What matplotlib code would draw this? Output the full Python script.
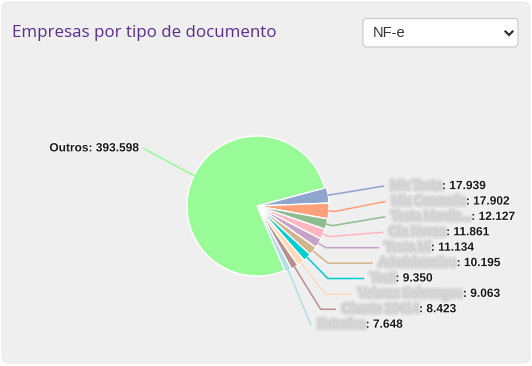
import numpy as np
import matplotlib
matplotlib.use("Agg")
import matplotlib.pyplot as plt
from matplotlib.patches import FancyBboxPatch
import matplotlib.patheffects as pe

# === dados do gráfico ===
titulo = "Empresas por tipo de documento"
tipo_documento = "NF-e"

empresas = ["Mix Testa", "Mix Cosmetic", "Testa Mardis...", "Cia Novas", "Testa Mi",
            "Administrativo", "Testi", "Veloraz Sobrenguo", "Chante 20414", "Extrativa"]
valores = [17939, 17902, 12127, 11861, 11134, 10195, 9350, 9063, 8423, 7648]
outros_nome = "Outros"
outros_valor = 393598

cores = ["#8fa5d0", "#ffa07a", "#8fbc8f", "#ffb6c1", "#c8a2c8",
         "#d2b48c", "#00ced1", "#ffdab9", "#bc8f8f", "#b0e0e6"]
cor_outros = "#98fb98"


def fmt(v):
    return f"{v:,}".replace(",", ".")


W, H = 532, 366
fig = plt.figure(figsize=(W / 100, H / 100), dpi=100)
fig.patch.set_facecolor("white")
ax = fig.add_axes([0, 0, 1, 1])

# cartão de fundo
ax.add_patch(FancyBboxPatch((2, 2), 528, 361, boxstyle="round,pad=0,rounding_size=7",
                            fc="#efefef", ec="#e6e6e6", lw=0.6, zorder=0))

# título e seletor
ax.text(12, 33, titulo, fontsize=12.2, family="Open Sans", color="#5a2d8c", va="center")
ax.add_patch(FancyBboxPatch((363, 18.5), 155, 28.5, boxstyle="round,pad=0,rounding_size=4",
                            fc="white", ec="#c8c8c8", lw=0.8, zorder=1))
ax.text(373, 33, tipo_documento, fontsize=10.5, family="Liberation Sans", color="#333333",
        va="center", zorder=2)
ax.plot([505.5, 509, 512.5], [31.5, 35, 31.5], color="#333333", lw=1.6, zorder=2,
        solid_joinstyle="miter")

# pizza
cx, cy, r = 257, 206, 70
fatias = valores + [outros_valor]
wedges, _ = ax.pie(fatias, colors=cores + [cor_outros], startangle=-15, counterclock=True,
                   radius=r, center=(cx, cy), frame=True,
                   wedgeprops=dict(edgecolor="white", linewidth=1))
for w in wedges[:-1]:
    w.set_radius(r + 2)

ax.set_xlim(0, W)
ax.set_ylim(H, 0)
ax.set_aspect("equal")
ax.axis("off")

# rótulos
total = sum(fatias)
angs = -15 + 360 * np.cumsum([0] + fatias) / total
meio = np.radians((angs[:-1] + angs[1:]) / 2)
R_lab = 132
nat = cy + R_lab * np.sin(meio[:-1])
ys = np.linspace(nat[0], nat[-1], len(valores))

renderer = fig.canvas.get_renderer()
val_style = dict(fontsize=8.6, family="Liberation Sans", fontweight="bold", color="#1a1a1a",
                 va="center", path_effects=[pe.withStroke(linewidth=1, foreground="white")])
# nomes das empresas aparecem borrados na referência
nome_style = dict(fontsize=8.8, family="Liberation Sans", color="#d2d2d2", va="center",
                  path_effects=[pe.withStroke(linewidth=5, foreground="#e3e3e3"),
                                pe.withStroke(linewidth=2.5, foreground="#d8d8d8"),
                                pe.Normal()])

for i, (nome, v, cor, y) in enumerate(zip(empresas, valores, cores, ys)):
    a = meio[i]
    rt = r + 2
    tx, ty = cx + rt * np.cos(a), cy + rt * np.sin(a)
    dy = y - cy
    xa = cx + np.sqrt(R_lab ** 2 - dy ** 2)
    rb = rt + 6
    if np.sin(a) > 0:
        rb = max(rb, dy / np.sin(a))
    bx, by = cx + rb * np.cos(a), cy + rb * np.sin(a)
    ex = xa - 4
    if bx >= ex - 1:
        ax.plot([tx, ex], [ty, y], color=cor, lw=1.1)
    else:
        ax.plot([tx, bx, ex], [ty, by, y], color=cor, lw=1.1)
    t = ax.text(xa + 3, y, nome, **nome_style)
    bb = t.get_window_extent(renderer)
    ax.text(xa + 3 + bb.width, y, ": " + fmt(v), **val_style)

# rótulo "Outros"
a = meio[-1]
tx, ty = cx + r * np.cos(a), cy + r * np.sin(a)
bx, by = cx + (r + 6) * np.cos(a), cy + (r + 6) * np.sin(a)
xa, y = cx + R_lab * np.cos(a), cy + R_lab * np.sin(a)
ax.plot([tx, bx, xa + 5], [ty, by, y], color=cor_outros, lw=1.1)
ax.text(xa, y, f"{outros_nome}: {fmt(outros_valor)}", ha="right", **val_style)

fig.savefig("out.png", dpi=100, facecolor="white")
